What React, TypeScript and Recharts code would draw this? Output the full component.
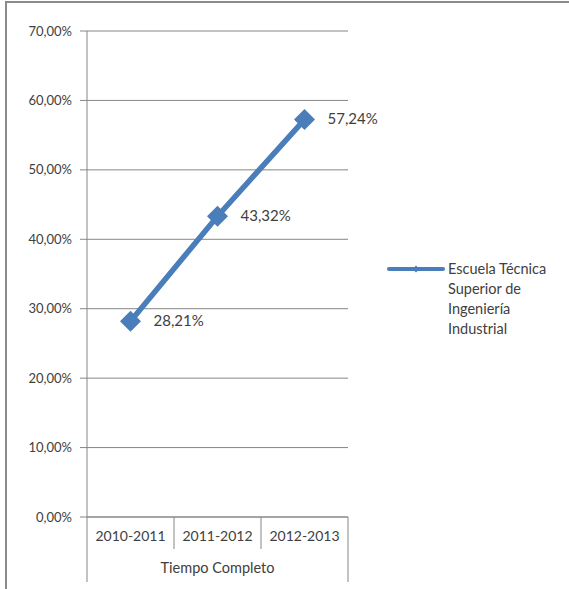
import { LineChart, Line, XAxis, YAxis, CartesianGrid, LabelList } from 'recharts';

const years = ['2010-2011', '2011-2012', '2012-2013'];
const values = [28.21, 43.32, 57.24];
const yTicks = [0, 10, 20, 30, 40, 50, 60, 70];
const seriesName = 'Escuela Técnica Superior de Ingeniería Industrial';
const groupLabel = 'Tiempo Completo';

const data = years.map((year, i) => ({ year, value: values[i] }));

const W = 569;
const H = 589;
const PLOT_LEFT = 87;
const PLOT_RIGHT = 348;
const BAND = (PLOT_RIGHT - PLOT_LEFT) / years.length;
const BLUE = '#4a7ebb';
const GRID = '#868686';
const TEXT = '#404040';
const FONT = 'Lato, "Open Sans", sans-serif';

const fmt = (v: number) => `${v.toFixed(2).replace('.', ',')}%`;

const Diamond = (props: any) => {
  const { cx, cy } = props;
  if (cx == null || cy == null) return null;
  const r = 10.5;
  return <polygon points={`${cx},${cy - r} ${cx + r},${cy} ${cx},${cy + r} ${cx - r},${cy}`} fill={BLUE} />;
};

const CategoryTick = (props: any) => {
  const { x, y, payload, index } = props;
  const half = BAND / 2;
  const last = index === years.length - 1;
  return (
    <g>
      <line x1={x - half} y1={y} x2={x - half} y2={index === 0 ? y + 65 : y + 32} stroke={GRID} />
      {last && <line x1={x + half} y1={y} x2={x + half} y2={y + 65} stroke={GRID} />}
      <text x={x} y={y + 20} textAnchor="middle" dominantBaseline="middle" fill={TEXT} fontSize={14} fontFamily={FONT}>
        {payload.value}
      </text>
      {/* group label sits under the middle category */}
      {index === Math.floor(years.length / 2) && (
        <text x={x} y={y + 52} textAnchor="middle" dominantBaseline="middle" fill={TEXT} fontSize={14.5} fontFamily={FONT}>
          {groupLabel}
        </text>
      )}
    </g>
  );
};

const PointLabel = (props: any) => {
  const { x, y, value } = props;
  return (
    <text x={x + 23} y={y + 1} dominantBaseline="middle" fill={TEXT} fontSize={15} fontFamily={FONT}>
      {fmt(value)}
    </text>
  );
};

export default function App() {
  return (
    <div style={{ position: 'absolute', left: 0, top: 0, width: W, height: H, background: '#fff', overflow: 'hidden' }}>
      {/* chart frame (only top and left edges visible) */}
      <div style={{ position: 'absolute', left: 5, top: 1, width: W, height: H, borderTop: '2px solid #8a8a8a', borderLeft: '2px solid #8a8a8a' }} />
      <div style={{ position: 'absolute', left: 0, top: 0 }}>
        <LineChart width={W} height={H} data={data} margin={{ top: 31, right: W - PLOT_RIGHT, bottom: 0, left: 0 }}>
          <CartesianGrid vertical={false} stroke={GRID} />
          <XAxis
            dataKey="year"
            scale="band"
            height={72}
            axisLine={{ stroke: GRID }}
            tickLine={false}
            tickSize={0}
            tickMargin={0}
            tick={<CategoryTick />}
            interval={0}
          />
          <YAxis
            width={PLOT_LEFT}
            domain={[0, 70]}
            ticks={yTicks}
            tickFormatter={fmt}
            axisLine={{ stroke: GRID }}
            tickLine={{ stroke: GRID }}
            tickSize={7}
            tickMargin={8}
            tick={{ fill: TEXT, fontSize: 13, fontFamily: FONT }}
          />
          <Line
            dataKey="value"
            name={seriesName}
            stroke={BLUE}
            strokeWidth={5.5}
            dot={<Diamond />}
            activeDot={false}
            isAnimationActive={false}
          >
            <LabelList dataKey="value" content={<PointLabel />} />
          </Line>
        </LineChart>
      </div>
      {/* legend */}
      <div style={{ position: 'absolute', left: 386, top: 259, display: 'flex', alignItems: 'flex-start', fontFamily: FONT, fontSize: 14.5, color: TEXT }}>
        <svg width={60} height={20}>
          <line x1={3} y1={10} x2={57} y2={10} stroke={BLUE} strokeWidth={4} strokeLinecap="round" />
          <polygon points="30,6.5 33.5,10 30,13.5 26.5,10" fill={BLUE} />
        </svg>
        <div style={{ width: 112, lineHeight: '20px', marginLeft: 2 }}>{seriesName}</div>
      </div>
    </div>
  );
}
